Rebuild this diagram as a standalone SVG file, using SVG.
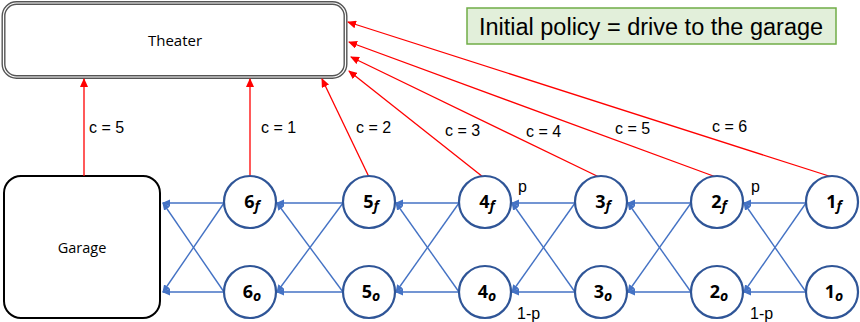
<svg xmlns="http://www.w3.org/2000/svg" width="860" height="322" viewBox="0 0 860 322">
<defs>
<marker id="ar" markerUnits="userSpaceOnUse" markerWidth="9" markerHeight="8" refX="8" refY="4" orient="auto"><path d="M0,0 L9,4 L0,8 z" fill="#ff0000"/></marker>
<marker id="ab" markerUnits="userSpaceOnUse" markerWidth="8" markerHeight="8" refX="7" refY="4" orient="auto"><path d="M0,0.5 L8,4 L0,7.5 z" fill="#4472c4"/></marker>
</defs>
<style>
.red{stroke:#ff0000;stroke-width:1.3;fill:none;marker-end:url(#ar)}
.blue{stroke:#4472c4;stroke-width:1.4;fill:none;marker-end:url(#ab)}
.node{fill:#fff;stroke:#2f5597;stroke-width:2.2}
.lbl{font-family:"Liberation Sans",Arial,sans-serif;font-size:16px;fill:#000}
.nl{font-family:"Open Sans","Liberation Sans",sans-serif;font-size:18px;font-weight:bold;fill:#000;text-anchor:middle}
.sub{font-size:14px;font-style:italic}
.box{font-family:"Open Sans","Liberation Sans",sans-serif;fill:#000;text-anchor:middle}
</style>
<rect width="860" height="322" fill="#fff"/>
<g id="theater">
<rect x="3.5" y="3" width="342" height="74" rx="13" fill="#fff" stroke="#555" stroke-width="4"/>
<rect x="3.5" y="3" width="342" height="74" rx="13" fill="none" stroke="#fff" stroke-width="1.2"/>
<text class="box" x="175" y="46" font-size="15">Theater</text>
</g>
<g id="policy">
<rect x="467" y="8" width="369" height="36" fill="#e2efda" stroke="#70ad47" stroke-width="1.5"/>
<text x="651" y="34.5" font-family="'Liberation Sans',Arial,sans-serif" font-size="23.5" text-anchor="middle" fill="#000">Initial policy = drive to the garage</text>
</g>
<g id="garage">
<rect x="4" y="176" width="156" height="142" rx="17" fill="#fff" stroke="#000" stroke-width="2"/>
<text class="box" x="82" y="253" font-size="14.5">Garage</text>
</g>
<g id="connectors">
<line class="red" x1="84" y1="176" x2="84" y2="79"/>
<line class="red" x1="250" y1="176" x2="250" y2="79"/>
<line class="red" x1="369" y1="177" x2="322" y2="79"/>
<line class="red" x1="483" y1="177" x2="349" y2="71"/>
<line class="red" x1="599" y1="177" x2="351" y2="57"/>
<line class="red" x1="716" y1="177" x2="349" y2="42"/>
<line class="red" x1="832" y1="177" x2="348" y2="22"/>
<line class="blue" x1="224" y1="203" x2="163" y2="203"/>
<line class="blue" x1="224" y1="292" x2="163" y2="292"/>
<line class="blue" x1="224" y1="203" x2="163" y2="292"/>
<line class="blue" x1="224" y1="292" x2="163" y2="203"/>
<line class="blue" x1="343" y1="203" x2="277" y2="203"/>
<line class="blue" x1="343" y1="292" x2="277" y2="292"/>
<line class="blue" x1="343" y1="203" x2="277" y2="292"/>
<line class="blue" x1="343" y1="292" x2="277" y2="203"/>
<line class="blue" x1="459" y1="203" x2="396" y2="203"/>
<line class="blue" x1="459" y1="292" x2="396" y2="292"/>
<line class="blue" x1="459" y1="203" x2="396" y2="292"/>
<line class="blue" x1="459" y1="292" x2="396" y2="203"/>
<line class="blue" x1="575" y1="203" x2="512" y2="203"/>
<line class="blue" x1="575" y1="292" x2="512" y2="292"/>
<line class="blue" x1="575" y1="203" x2="512" y2="292"/>
<line class="blue" x1="575" y1="292" x2="512" y2="203"/>
<line class="blue" x1="691" y1="203" x2="628" y2="203"/>
<line class="blue" x1="691" y1="292" x2="628" y2="292"/>
<line class="blue" x1="691" y1="203" x2="628" y2="292"/>
<line class="blue" x1="691" y1="292" x2="628" y2="203"/>
<line class="blue" x1="806" y1="203" x2="744" y2="203"/>
<line class="blue" x1="806" y1="292" x2="744" y2="292"/>
<line class="blue" x1="806" y1="203" x2="744" y2="292"/>
<line class="blue" x1="806" y1="292" x2="744" y2="203"/>
<text class="lbl" x="89" y="133">c = 5</text>
<text class="lbl" x="261" y="133">c = 1</text>
<text class="lbl" x="356" y="133">c = 2</text>
<text class="lbl" x="445" y="136">c = 3</text>
<text class="lbl" x="526" y="137">c = 4</text>
<text class="lbl" x="615" y="134">c = 5</text>
<text class="lbl" x="712" y="132">c = 6</text>
<text class="lbl" x="518" y="192">p</text>
<text class="lbl" x="517" y="319">1-p</text>
<text class="lbl" x="751" y="192">p</text>
<text class="lbl" x="750" y="319">1-p</text>
</g>
<g id="n6f"><circle class="node" cx="250" cy="202" r="26"/><text class="nl" x="252" y="208">6<tspan class="sub" dy="3">f</tspan></text></g>
<g id="n6o"><circle class="node" cx="250" cy="292" r="26"/><text class="nl" x="252" y="298">6<tspan class="sub" dy="3">o</tspan></text></g>
<g id="n5f"><circle class="node" cx="369" cy="202" r="26"/><text class="nl" x="371" y="208">5<tspan class="sub" dy="3">f</tspan></text></g>
<g id="n5o"><circle class="node" cx="369" cy="292" r="26"/><text class="nl" x="371" y="298">5<tspan class="sub" dy="3">o</tspan></text></g>
<g id="n4f"><circle class="node" cx="485" cy="202" r="26"/><text class="nl" x="487" y="208">4<tspan class="sub" dy="3">f</tspan></text></g>
<g id="n4o"><circle class="node" cx="485" cy="292" r="26"/><text class="nl" x="487" y="298">4<tspan class="sub" dy="3">o</tspan></text></g>
<g id="n3f"><circle class="node" cx="601" cy="202" r="26"/><text class="nl" x="603" y="208">3<tspan class="sub" dy="3">f</tspan></text></g>
<g id="n3o"><circle class="node" cx="601" cy="292" r="26"/><text class="nl" x="603" y="298">3<tspan class="sub" dy="3">o</tspan></text></g>
<g id="n2f"><circle class="node" cx="717" cy="202" r="26"/><text class="nl" x="719" y="208">2<tspan class="sub" dy="3">f</tspan></text></g>
<g id="n2o"><circle class="node" cx="717" cy="292" r="26"/><text class="nl" x="719" y="298">2<tspan class="sub" dy="3">o</tspan></text></g>
<g id="n1f"><circle class="node" cx="832" cy="202" r="26"/><text class="nl" x="834" y="208">1<tspan class="sub" dy="3">f</tspan></text></g>
<g id="n1o"><circle class="node" cx="832" cy="292" r="26"/><text class="nl" x="834" y="298">1<tspan class="sub" dy="3">o</tspan></text></g>
</svg>
